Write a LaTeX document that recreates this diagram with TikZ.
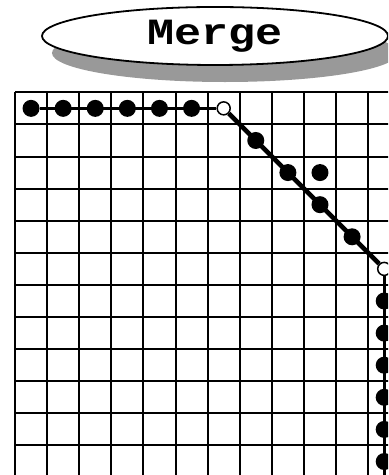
\documentclass[tikz,border=0pt]{standalone}
\usepackage{fontspec}
\setmonofont{Liberation Mono}
\usetikzlibrary{shapes.geometric, shadows}

\begin{document}
\begin{tikzpicture}[
        x=32.1pt, y=32.1pt,
        gridline/.style={line width=2pt, black, step=1},
        dot/.style={circle, fill=black, inner sep=0pt, minimum size=17pt},
        hole/.style={circle, draw=black, fill=white, line width=1.5pt, inner sep=0pt, minimum size=13pt},
        link/.style={line width=3pt, black},
        title/.style={ellipse, draw=black, line width=1.8pt, fill=white,
                      minimum width=346pt, minimum height=58pt, inner sep=0pt,
                      general shadow={fill=black!40, shadow xshift=10pt, shadow yshift=-17pt},
                      font=\fontsize{37}{37}\selectfont\ttfamily\bfseries},
      ]
        \useasboundingbox (-0.467,2.875) rectangle (11.62,-11.92);
        \clip (-0.467,2.875) rectangle (11.62,-11.92);
        % title bubble
        \node[title] (head) at (6.23,1.754) {\scalebox{1.22}[1]{Merge}};
        % grid
        \draw[gridline] (0,0) grid (12,-12);
        % merge path
        \foreach \i in {0,...,5}
          \node[dot] (h\i) at (\i+0.5,-0.5) {};
        \node[hole] (o1) at (6.5,-0.5) {};
        \foreach \i in {1,...,4}
          \node[dot] (d\i) at (6.5+\i,-0.5-\i) {};
        \node[dot] (x) at (9.5,-2.5) {};
        \node[hole] (o2) at (11.5,-5.5) {};
        \foreach \i in {1,...,6}
          \node[dot] (v\i) at (11.5,-5.5-\i) {};
        \coordinate (vend) at (11.5,-12);
        \draw[link] (h0) -- (o1);
        \draw[link, line width=4.5pt] (o1) -- (o2);
        \draw[link] (o2) -- (vend);
      \end{tikzpicture}
\end{document}
